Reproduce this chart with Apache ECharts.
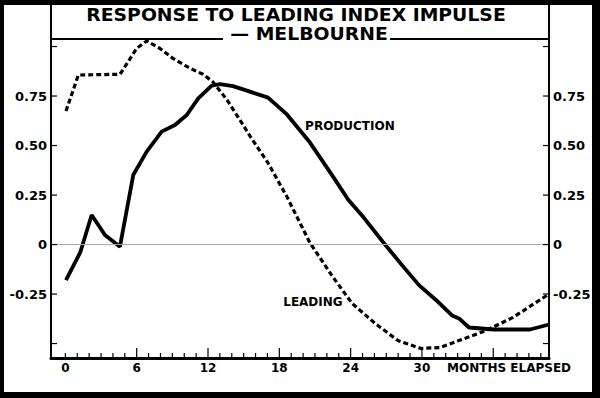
<!DOCTYPE html>
<html>
<head>
<meta charset="utf-8">
<script src="https://cdn.jsdelivr.net/npm/echarts@6/dist/echarts.min.js"></script>
<style>
  html, body { margin: 0; padding: 0; background: #fff; }
  #chart { width: 600px; height: 398px; }
</style>
</head>
<body>
<div id="chart"></div>
<script>
// months elapsed and response values
const prodMonths = [0.05, 1.25, 2.21, 3.33, 4.59, 5.71, 6.84, 8.10, 9.22, 10.21, 11.18, 12.31, 13.01, 14.1, 15.53, 17.05, 18.64, 20.58, 22.52, 23.8, 25.12, 26.72, 28.32, 29.75, 31.18, 32.53, 33.12, 33.96, 36.06, 39.09, 40.69]
const prodValues = [-0.18, -0.04, 0.149, 0.048, -0.011, 0.351, 0.469, 0.57, 0.604, 0.654, 0.738, 0.802, 0.81, 0.80, 0.772, 0.742, 0.657, 0.515, 0.343, 0.226, 0.135, 0.013, -0.104, -0.205, -0.28, -0.358, -0.373, -0.419, -0.429, -0.429, -0.404]

const leadMonths = [0.05, 1.09, 4.59, 5.01, 6.0, 6.84, 7.96, 9.05, 10.48, 11.58, 12.42, 13.6, 14.69, 15.53, 17.05, 18.65, 20.58, 22.52, 24.12, 26.05, 27.98, 29.92, 31.52, 33.1, 35.4, 37.66, 40.69]
const leadValues = [0.674, 0.856, 0.86, 0.898, 0.991, 1.028, 0.99, 0.94, 0.89, 0.86, 0.821, 0.73, 0.629, 0.548, 0.412, 0.24, 0.008, -0.165, -0.297, -0.398, -0.485, -0.525, -0.52, -0.485, -0.434, -0.368, -0.25]

const xLabels = [0, 6, 12, 18, 24, 30]
const xMinorTicks = Array.from({ length: 41 }, (_, i) => i)
const xMajorTicks = [6, 12, 18, 24, 30, 36]
const yTicks = [-0.5, -0.25, 0, 0.25, 0.5, 0.75, 1.0]
const yLabels = [-0.25, 0, 0.25, 0.5, 0.75]
const xName = 'MONTHS ELAPSED'
const xNameAt = 37.33

const FONT = 'DejaVu Sans'
const X_MIN = -1.21, X_MAX = 40.69
const Y_MIN = -0.573, Y_MAX = 1.038

const chart = echarts.init(document.getElementById('chart'), null, { renderer: 'svg' })

const yFmt = v => (Math.abs(v) < 1e-9 ? '0' : v.toFixed(2))

const yAxisBase = pos => ({
  type: 'value',
  position: pos,
  min: Y_MIN,
  max: Y_MAX,
  axisLine: { show: true, onZero: false, lineStyle: { color: '#000', width: 2 } },
  splitLine: { show: false },
  axisTick: { show: false },
  axisLabel: {
    customValues: yLabels,
    formatter: yFmt,
    margin: 4,
    color: '#000',
    fontFamily: FONT,
    fontWeight: 'bold',
    fontSize: 13
  }
})

const markLabel = {
  show: true,
  position: 'inside',
  formatter: '{b}',
  color: '#000',
  fontFamily: FONT,
  fontWeight: 'bold',
  fontSize: 12
}

// tick marks as points [x, y, kind]: kind 0 = x minor, 1 = x major, 2 = y tick (both sides)
const tickData = xMinorTicks.map(m => [m, Y_MIN, xMajorTicks.includes(m) ? 1 : 0])
  .concat(yTicks.map(v => [X_MIN, v, 2]))

function renderTick(params, api) {
  const p = api.coord([api.value(0), api.value(1)])
  const kind = api.value(2)
  const style = { stroke: '#000', lineWidth: 1.2 }
  if (kind === 2) {
    const q = api.coord([X_MAX, api.value(1)])
    return {
      type: 'group',
      children: [
        { type: 'line', shape: { x1: p[0], y1: p[1], x2: p[0] + 6, y2: p[1] }, style },
        { type: 'line', shape: { x1: q[0], y1: q[1], x2: q[0] - 6, y2: q[1] }, style }
      ]
    }
  }
  const len = kind === 1 ? 10 : 5
  return { type: 'line', shape: { x1: p[0], y1: p[1], x2: p[0], y2: p[1] - len }, style }
}

const option = {
  animation: false,
  backgroundColor: '#fff',
  grid: {
    left: 51,
    right: 51,
    top: 39,
    bottom: 40,
    show: true,
    borderColor: '#000',
    borderWidth: 2,
    backgroundColor: 'transparent'
  },
  xAxis: {
    type: 'value',
    position: 'bottom',
    min: X_MIN,
    max: X_MAX,
    axisLine: { show: true, onZero: false, lineStyle: { color: '#000', width: 3 } },
    splitLine: { show: false },
    axisTick: { show: false },
    axisLabel: {
      customValues: xLabels.concat([xNameAt]),
      formatter: v => (v > 35 ? xName : String(v)),
      margin: 4,
      color: '#000',
      fontFamily: FONT,
      fontWeight: 'bold',
      fontSize: 12
    }
  },
  yAxis: [yAxisBase('left'), yAxisBase('right')],
  series: [{
    name: 'ticks',
    type: 'custom',
    silent: true,
    clip: false,
    z: 5,
    encode: { x: 0, y: 1 },
    renderItem: renderTick,
    data: tickData
  }, {
    name: 'PRODUCTION',
    type: 'line',
    showSymbol: false,
    symbol: 'none',
    lineStyle: { color: '#000', width: 3.8 },
    data: prodMonths.map((m, i) => [m, prodValues[i]]),
    markLine: {
      silent: true,
      symbol: 'none',
      label: { show: false },
      lineStyle: { color: '#aaa', width: 1, type: 'solid' },
      data: [{ yAxis: 0 }]
    },
    markPoint: {
      symbol: 'circle',
      symbolSize: 0,
      label: markLabel,
      data: [{ name: 'PRODUCTION', coord: [23.94, 0.598] }]
    }
  }, {
    name: 'LEADING',
    type: 'line',
    showSymbol: false,
    symbol: 'none',
    lineStyle: { color: '#000', width: 3.2, type: [5, 3] },
    data: leadMonths.map((m, i) => [m, leadValues[i]]),
    markPoint: {
      symbol: 'circle',
      symbolSize: 0,
      label: markLabel,
      data: [{ name: 'LEADING', coord: [20.83, -0.29] }]
    }
  }],
  graphic: [
    // outer frame
    { type: 'rect', z: 50, shape: { x: 0, y: 0, width: 4, height: 398 }, style: { fill: '#000' } },
    { type: 'rect', z: 50, shape: { x: 0, y: 0, width: 600, height: 5 }, style: { fill: '#000' } },
    { type: 'rect', z: 50, shape: { x: 592, y: 0, width: 8, height: 398 }, style: { fill: '#000' } },
    { type: 'rect', z: 50, shape: { x: 0, y: 392, width: 600, height: 6 }, style: { fill: '#000' } },
    // title box sides
    { type: 'line', z: 50, shape: { x1: 51, y1: 0, x2: 51, y2: 40 }, style: { stroke: '#000', lineWidth: 2 } },
    { type: 'line', z: 50, shape: { x1: 549, y1: 0, x2: 549, y2: 40 }, style: { stroke: '#000', lineWidth: 2 } },
    // gap in the rule under the subtitle
    { type: 'rect', z: 50, shape: { x: 223, y: 34, width: 167, height: 9 }, style: { fill: '#fff' } },
    {
      type: 'text', z: 60, x: 296, y: 14.5, scaleX: 1.045,
      style: {
        text: 'RESPONSE TO LEADING INDEX IMPULSE',
        align: 'center', verticalAlign: 'middle',
        fill: '#000', font: 'bold 18px "DejaVu Sans"'
      }
    },
    {
      type: 'text', z: 60, x: 309, y: 34, scaleX: 1.045,
      style: {
        text: '— MELBOURNE',
        align: 'center', verticalAlign: 'middle',
        fill: '#000', font: 'bold 18px "DejaVu Sans"'
      }
    }
  ]
}

chart.setOption(option)
</script>
</body>
</html>
